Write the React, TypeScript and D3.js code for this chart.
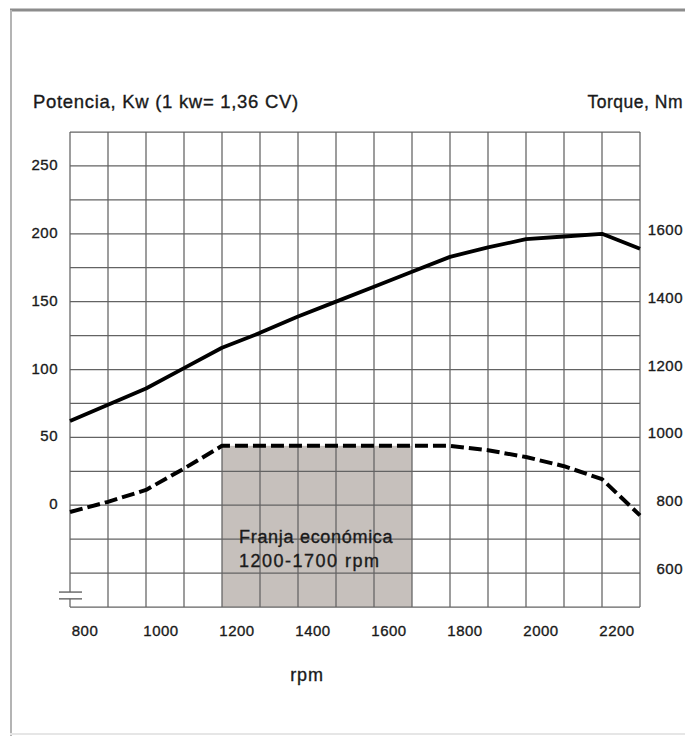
import React from "react";
import * as d3 from "d3";

const rpmValues = [800, 900, 1000, 1100, 1200, 1300, 1400, 1500, 1600, 1700, 1800, 1900, 2000, 2100, 2200, 2300];
const powerKw = [62, 74, 86, 101, 116, 127, 139, 150, 161, 172, 183, 190, 196, 198, 200, 189];
const torqueNm = [780, 810, 845, 908, 975, 975, 975, 975, 975, 975, 975, 962, 942, 915, 877, 770];
const rpmTicks = [800, 1000, 1200, 1400, 1600, 1800, 2000, 2200];
const kwTicks = [0, 50, 100, 150, 200, 250];
const nmTicks = [600, 800, 1000, 1200, 1400, 1600];
const bandRange = [1200, 1700];

const W = 685;
const H = 736;
const left = 70;
const right = 640;
const top = 132;
const bottom = 607;
const FONT = "'Liberation Sans', Arial, Helvetica, sans-serif";
const INK = "#1a1a1a";

export default function App() {
  const x = d3.scaleLinear().domain([800, 2300]).range([left, right]);
  const yKw = d3.scaleLinear().domain([-75, 275]).range([bottom, top]);
  const yNm = d3.scaleLinear().domain([500, 1900]).range([bottom, top]);

  const vGrid = d3.range(800, 2301, 100);
  const hGrid = d3.range(-75, 276, 25);

  const powerLine = d3
    .line<number>()
    .x((_, i) => x(rpmValues[i]))
    .y((d) => yKw(d));
  const torqueLine = d3
    .line<number>()
    .x((_, i) => x(rpmValues[i]))
    .y((d) => yNm(d));

  const bandTop = yNm(torqueNm[rpmValues.indexOf(bandRange[0])]);
  const breakY1 = yKw(-64);
  const breakY2 = yKw(-69);

  return (
    <svg
      width={W}
      height={H}
      style={{ position: "absolute", left: 0, top: 0, background: "#fff" }}
      fontFamily={FONT}
    >
      <rect x={0} y={0} width={W} height={H} fill="#fff" />
      {/* page frame */}
      <line x1={10} x2={W} y1={10} y2={10} stroke="#8c8c8c" strokeWidth={3} />
      <line x1={11} x2={11} y1={10} y2={H} stroke="#b4b4b4" strokeWidth={2} />
      <line x1={10} x2={W} y1={H - 2} y2={H - 2} stroke="#e6e6e6" strokeWidth={2} />

      {/* economic band */}
      <rect
        x={x(bandRange[0])}
        y={bandTop}
        width={x(bandRange[1]) - x(bandRange[0])}
        height={bottom - bandTop}
        fill="#c6c0bc"
      />

      {/* grid */}
      <g stroke="#636363" strokeWidth={1.25}>
        {vGrid.map((v) => (
          <line key={"v" + v} x1={x(v)} x2={x(v)} y1={top} y2={bottom} />
        ))}
        {hGrid.map((v) => (
          <line key={"h" + v} x1={left} x2={right} y1={yKw(v)} y2={yKw(v)} />
        ))}
      </g>

      {/* axis break */}
      <rect x={left - 2} y={breakY1} width={4} height={breakY2 - breakY1} fill="#fff" />
      <line x1={left - 11} x2={left + 12} y1={breakY1} y2={breakY1} stroke="#636363" strokeWidth={1.4} />
      <line x1={left - 11} x2={left + 12} y1={breakY2} y2={breakY2} stroke="#636363" strokeWidth={1.4} />

      {/* curves */}
      <path d={powerLine(powerKw) ?? ""} fill="none" stroke="#000" strokeWidth={3.8} strokeLinejoin="round" />
      <path
        d={torqueLine(torqueNm) ?? ""}
        fill="none"
        stroke="#000"
        strokeWidth={4}
        strokeDasharray="13 5"
        strokeLinejoin="round"
      />

      <g fill={INK} stroke={INK} strokeWidth={0.35}>
        {/* band text */}
        <text x={x(bandRange[0]) + 17} y={543} fontSize={18} letterSpacing={0.7}>
          Franja económica
        </text>
        <text x={x(bandRange[0]) + 17} y={567} fontSize={18} letterSpacing={1.5}>
          1200-1700 rpm
        </text>

        {/* titles */}
        <text x={33} y={108} fontSize={18.5} letterSpacing={0.7}>
          Potencia, Kw (1 kw= 1,36 CV)
        </text>
        <text x={683} y={108} fontSize={17.5} letterSpacing={0.5} textAnchor="end">
          Torque, Nm
        </text>

        {/* left ticks */}
        {kwTicks.map((v) => (
          <text key={"kw" + v} x={58} y={yKw(v) + 4} fontSize={15} letterSpacing={0.5} textAnchor="end">
            {v}
          </text>
        ))}
        {/* right ticks */}
        {nmTicks.map((v) => (
          <text key={"nm" + v} x={683} y={yNm(v) + 1} fontSize={15} letterSpacing={0.5} textAnchor="end">
            {v}
          </text>
        ))}
        {/* x ticks */}
        {rpmTicks.map((v) => (
          <text key={"r" + v} x={x(v) + 15} y={636} fontSize={15} letterSpacing={0.5} textAnchor="middle">
            {v}
          </text>
        ))}
        <text x={307} y={681} fontSize={18} letterSpacing={0.8} textAnchor="middle">
          rpm
        </text>
      </g>
    </svg>
  );
}
